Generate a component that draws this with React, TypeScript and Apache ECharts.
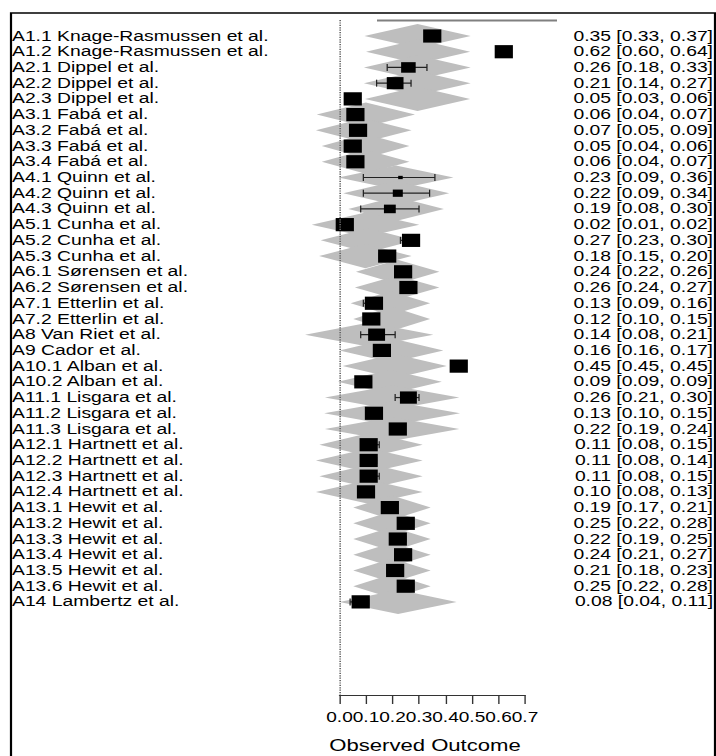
import React, { useEffect, useRef } from "react";
import * as echarts from "echarts";

const studyLabels = [
  "A1.1 Knage-Rasmussen et al.", "A1.2 Knage-Rasmussen et al.",
  "A2.1 Dippel et al.", "A2.2 Dippel et al.", "A2.3 Dippel et al.",
  "A3.1 Fabá et al.", "A3.2 Fabá et al.", "A3.3 Fabá et al.", "A3.4 Fabá et al.",
  "A4.1 Quinn et al.", "A4.2 Quinn et al.", "A4.3 Quinn et al.",
  "A5.1 Cunha et al.", "A5.2 Cunha et al.", "A5.3 Cunha et al.",
  "A6.1 Sørensen et al.", "A6.2 Sørensen et al.",
  "A7.1 Etterlin et al.", "A7.2 Etterlin et al.",
  "A8 Van Riet et al.", "A9 Cador et al.",
  "A10.1 Alban et al.", "A10.2 Alban et al.",
  "A11.1 Lisgara et al.", "A11.2 Lisgara et al.", "A11.3 Lisgara et al.",
  "A12.1 Hartnett et al.", "A12.2 Hartnett et al.", "A12.3 Hartnett et al.", "A12.4 Hartnett et al.",
  "A13.1 Hewit et al.", "A13.2 Hewit et al.", "A13.3 Hewit et al.", "A13.4 Hewit et al.", "A13.5 Hewit et al.", "A13.6 Hewit et al.",
  "A14 Lambertz et al.",
];

const estimates = [
  0.35, 0.62, 0.26, 0.21, 0.05, 0.06, 0.07, 0.05, 0.06, 0.23, 0.22, 0.19,
  0.02, 0.27, 0.18, 0.24, 0.26, 0.13, 0.12, 0.14, 0.16, 0.45, 0.09,
  0.26, 0.13, 0.22, 0.11, 0.11, 0.11, 0.10, 0.19, 0.25, 0.22, 0.24, 0.21, 0.25, 0.08,
];
const ciLower = [
  0.33, 0.60, 0.18, 0.14, 0.03, 0.04, 0.05, 0.04, 0.04, 0.09, 0.09, 0.08,
  0.01, 0.23, 0.15, 0.22, 0.24, 0.09, 0.10, 0.08, 0.16, 0.45, 0.09,
  0.21, 0.10, 0.19, 0.08, 0.08, 0.08, 0.08, 0.17, 0.22, 0.19, 0.21, 0.18, 0.22, 0.04,
];
const ciUpper = [
  0.37, 0.64, 0.33, 0.27, 0.06, 0.07, 0.09, 0.06, 0.07, 0.36, 0.34, 0.30,
  0.02, 0.30, 0.20, 0.26, 0.27, 0.16, 0.15, 0.21, 0.17, 0.45, 0.09,
  0.30, 0.15, 0.24, 0.15, 0.14, 0.15, 0.13, 0.21, 0.28, 0.25, 0.27, 0.23, 0.28, 0.11,
];
// fitted-value interval (grey diamonds)
const fitLower = [
  0.094, 0.100, 0.092, 0.092, 0.096, -0.086, -0.089, -0.067, -0.067, -0.004, 0.014, 0.033,
  -0.105, -0.071, -0.077, 0.062, 0.058, 0.042, 0.052, -0.130, 0.000, 0.012, -0.006,
  -0.055, -0.058, -0.055, -0.076, -0.089, -0.076, -0.089, 0.052, 0.052, 0.052, 0.052, 0.052, 0.052, 0.000,
];
const fitUpper = [
  0.495, 0.493, 0.495, 0.495, 0.493, 0.285, 0.272, 0.264, 0.264, 0.430, 0.414, 0.394,
  0.301, 0.285, 0.272, 0.377, 0.377, 0.342, 0.342, 0.354, 0.392, 0.405, 0.386,
  0.452, 0.455, 0.452, 0.314, 0.314, 0.314, 0.314, 0.344, 0.344, 0.344, 0.344, 0.344, 0.344, 0.442,
];
// relative study weights (square size)
const weights = [
  1, 1, 0.8, 0.92, 1, 1, 1, 1, 1, 0.25, 0.55, 0.65,
  1, 1, 1, 1, 1, 1, 1, 0.93, 1, 1, 1,
  0.93, 1, 1, 1, 1, 1, 1, 1, 1, 1, 1, 1, 1, 1,
];
const xTicks = [0, 0.1, 0.2, 0.3, 0.4, 0.5, 0.6, 0.7];

const SX = 1.38;
const W = 716;
const H = 756;
const CW = W / SX;
const FONT = "'Liberation Sans', Arial, Helvetica, sans-serif";

export default function App() {
  const ref = useRef<HTMLDivElement>(null);
  useEffect(() => {
    if (!ref.current) return;
    const chart = echarts.init(ref.current, null, { renderer: "svg", width: CW, height: H });
    const px = (x: number) => x / SX;
    const data = studyLabels.map((_, i) => [
      i, estimates[i], ciLower[i], ciUpper[i], fitLower[i], fitUpper[i], weights[i],
    ]);
    const rowTop = 36;
    const rowStep = 15.72;
    const gridTop = 20;
    const gridBottomY = 695;
    const yMin = (gridTop - rowTop) / rowStep;
    const yMax = (gridBottomY - rowTop) / rowStep;

    chart.setOption({
      animation: false,
      backgroundColor: "#fff",
      grid: {
        left: px(339.5),
        right: CW - px(525),
        top: gridTop,
        bottom: H - gridBottomY,
      },
      xAxis: {
        type: "value",
        min: xTicks[0],
        max: xTicks[xTicks.length - 1],
        interval: 0.1,
        axisLine: { show: true, onZero: false, lineStyle: { color: "#333", width: 1 } },
        axisTick: { show: true, length: 9, lineStyle: { color: "#333", width: 1 } },
        axisLabel: {
          show: true,
          interval: 0,
          hideOverlap: false,
          showMinLabel: true,
          showMaxLabel: true,
          margin: 15,
          fontSize: 13.8,
          color: "#000",
          fontFamily: FONT,
          formatter: (v: number) => v.toFixed(1),
        },
        splitLine: { show: false },
      },
      yAxis: {
        type: "value",
        min: yMin,
        max: yMax,
        inverse: true,
        show: false,
        splitLine: { show: false },
      },
      graphic: [
        {
          type: "rect",
          shape: { x: px(11), y: 13, width: px(715) - px(11), height: 800 },
          style: { fill: "none", stroke: "#000", lineWidth: 1.6 },
          silent: true,
        },
        {
          type: "line",
          shape: { x1: px(377), y1: 20.5, x2: px(557), y2: 20.5 },
          style: { stroke: "#808080", lineWidth: 2 },
          silent: true,
        },
        {
          type: "text",
          x: px(425),
          y: 746,
          style: {
            text: "Observed Outcome",
            fontSize: 16,
            fontFamily: FONT,
            fill: "#000",
            align: "center",
            verticalAlign: "middle",
          },
          silent: true,
        },
      ],
      series: [
        {
          type: "custom",
          name: "fitted",
          clip: false,
          silent: true,
          data,
          encode: { x: [4, 5], y: 0 },
          renderItem: (params: any, api: any) => {
            const i = api.value(0);
            const lo = api.value(4);
            const hi = api.value(5);
            const mid = (lo + hi) / 2;
            const pL = api.coord([lo, i]);
            const pR = api.coord([hi, i]);
            const pT = api.coord([mid, i - 0.77]);
            const pB = api.coord([mid, i + 0.77]);
            return {
              type: "polygon",
              shape: { points: [pL, pT, pR, pB] },
              style: { fill: "#bebebe", stroke: "none" },
            };
          },
          markLine: {
            silent: true,
            symbol: "none",
            label: { show: false },
            lineStyle: { type: "dotted", color: "#666", width: 1.2 },
            data: [{ xAxis: 0 }],
          },
        },
        {
          type: "custom",
          name: "studies",
          clip: false,
          silent: true,
          data,
          encode: { x: [1, 2, 3], y: 0 },
          renderItem: (params: any, api: any) => {
            const i = api.value(0);
            const est = api.value(1);
            const lo = api.value(2);
            const hi = api.value(3);
            const w = api.value(6);
            const c = api.coord([est, i]);
            const l = api.coord([lo, i]);
            const r = api.coord([hi, i]);
            const cap = 3.5;
            const side = 13.2 * w;
            const lineStyle = { stroke: "#222", lineWidth: 1.2 };
            return {
              type: "group",
              children: [
                { type: "line", shape: { x1: l[0], y1: l[1], x2: r[0], y2: r[1] }, style: lineStyle },
                { type: "line", shape: { x1: l[0], y1: l[1] - cap, x2: l[0], y2: l[1] + cap }, style: { stroke: "#222", lineWidth: 0.9 } },
                { type: "line", shape: { x1: r[0], y1: r[1] - cap, x2: r[0], y2: r[1] + cap }, style: { stroke: "#222", lineWidth: 0.9 } },
                {
                  type: "rect",
                  shape: { x: c[0] - side / 2, y: c[1] - side / 2, width: side, height: side },
                  style: { fill: "#000" },
                },
                {
                  type: "text",
                  x: px(12),
                  y: c[1],
                  style: {
                    text: studyLabels[i],
                    fontSize: 14,
                    fontFamily: FONT,
                    fill: "#000",
                    align: "left",
                    verticalAlign: "middle",
                  },
                },
                {
                  type: "text",
                  x: px(713),
                  y: c[1],
                  style: {
                    text: `${est.toFixed(2)} [${lo.toFixed(2)}, ${hi.toFixed(2)}]`,
                    fontSize: 14,
                    fontFamily: FONT,
                    fill: "#000",
                    align: "right",
                    verticalAlign: "middle",
                  },
                },
              ],
            };
          },
        },
      ],
    });
    return () => chart.dispose();
  }, []);

  return (
    <div
      style={{
        position: "absolute",
        left: 0,
        top: 0,
        width: W,
        height: H,
        overflow: "hidden",
        background: "#fff",
      }}
    >
      <div
        ref={ref}
        style={{ width: CW, height: H, transform: `scaleX(${SX})`, transformOrigin: "0 0" }}
      />
    </div>
  );
}
